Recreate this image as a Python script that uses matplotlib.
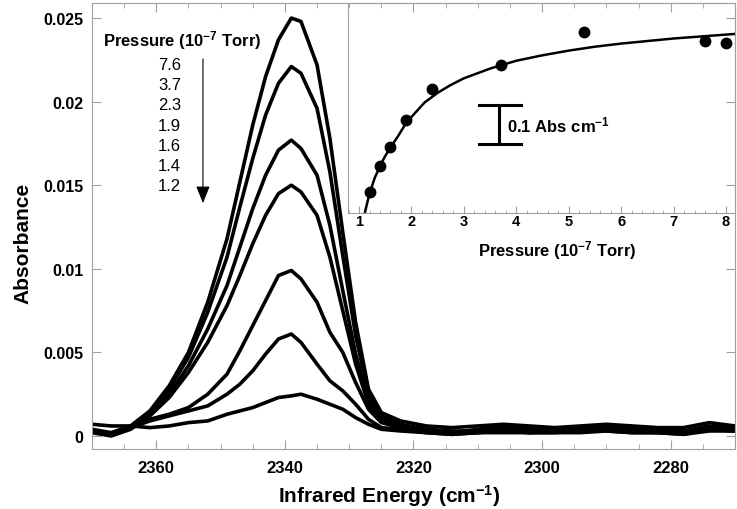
import matplotlib
matplotlib.use("Agg")
import matplotlib.pyplot as plt
from matplotlib.ticker import MultipleLocator

plt.rcParams["font.family"] = ["Liberation Sans", "DejaVu Sans"]
plt.rcParams["mathtext.fontset"] = "custom"
plt.rcParams["mathtext.rm"] = "Liberation Sans"
plt.rcParams["mathtext.bf"] = "Liberation Sans:bold"
plt.rcParams["mathtext.it"] = "Liberation Sans:italic"

GRAY = "#a0a0a0"

# IR spectra, wavenumber in cm-1
wavenumber = [2370, 2367, 2364, 2361, 2358, 2355, 2352, 2349, 2347, 2345, 2343,
              2341, 2339, 2337.5, 2335, 2333, 2331, 2329, 2327, 2325, 2322,
              2318, 2314, 2310, 2306, 2302, 2298, 2294, 2290, 2286, 2282,
              2278, 2274, 2270]

abs_76 = [.0004, .0002, .0006, .0015, .0030, .0050, .0080, .0118, .0152, .0186, .0215,
          .0237, .0250, .0248, .0222, .0178, .0122, .0068, .0028, .0014, .0009,
          .0006, .0005, .0006, .0007, .0006, .0005, .0006, .0007, .0006, .0005,
          .0005, .0008, .0006]
abs_37 = [.0003, .0001, .0005, .0014, .0028, .0047, .0074, .0107, .0137, .0166, .0192,
          .0211, .0221, .0217, .0196, .0158, .0108, .0060, .0025, .0012, .0007,
          .0004, .0002, .0004, .0006, .0004, .0004, .0005, .0006, .0005, .0004,
          .0003, .0006, .0005]
abs_23 = [.0003, .0001, .0005, .0013, .0025, .0042, .0064, .0090, .0113, .0136, .0156,
          .0171, .0177, .0172, .0156, .0126, .0087, .0049, .0021, .0011, .0006,
          .0004, .0003, .0003, .0005, .0004, .0003, .0004, .0005, .0004, .0004,
          .0002, .0005, .0004]
abs_19 = [.0002, .0000, .0004, .0012, .0023, .0038, .0056, .0078, .0096, .0115, .0132,
          .0145, .0150, .0146, .0132, .0107, .0075, .0043, .0019, .0010, .0006,
          .0003, .0001, .0003, .0004, .0003, .0003, .0004, .0004, .0003, .0003,
          .0002, .0005, .0004]
abs_16 = [.0003, .0001, .0005, .0010, .0013, .0017, .0025, .0037, .0051, .0066, .0081,
          .0096, .0099, .0094, .0080, .0062, .0050, .0032, .0016, .0008, .0005,
          .0003, .0002, .0002, .0004, .0002, .0003, .0003, .0004, .0003, .0002,
          .0001, .0004, .0003]
abs_14 = [.0003, .0001, .0005, .0009, .0012, .0015, .0018, .0025, .0031, .0039, .0049,
          .0058, .0061, .0056, .0043, .0033, .0027, .0019, .0010, .0005, .0004,
          .0002, .0001, .0002, .0003, .0002, .0002, .0003, .0003, .0002, .0002,
          .0001, .0003, .0003]
abs_12 = [.0007, .0006, .0006, .0005, .0006, .0008, .0009, .0013, .0015, .0017, .0020,
          .0023, .0024, .0025, .0022, .0019, .0016, .0011, .0007, .0004, .0003,
          .0002, .0001, .0002, .0002, .0002, .0002, .0002, .0003, .0002, .0002,
          .0002, .0004, .0003]
spectra = [abs_76, abs_37, abs_23, abs_19, abs_16, abs_14, abs_12]
pressure_labels = ["7.6", "3.7", "2.3", "1.9", "1.6", "1.4", "1.2"]

# inset: integrated absorbance vs pressure
pressure = [1.2, 1.4, 1.6, 1.9, 2.4, 3.7, 5.3, 7.6, 8.0]
intensity = [0.054, 0.120, 0.169, 0.238, 0.318, 0.379, 0.464, 0.441, 0.436]
fit_p = [1.11, 1.2, 1.3, 1.4, 1.5, 1.6, 1.75, 1.9, 2.0, 2.25, 2.5, 2.75, 3.0,
         3.5, 4.0, 4.5, 5.0, 5.5, 6.0, 7.0, 8.2]
fit_a = [0.0, 0.050, 0.090, 0.120, 0.146, 0.168, 0.198, 0.231, 0.246, 0.283,
         0.308, 0.328, 0.345, 0.370, 0.390, 0.404, 0.416, 0.426, 0.434, 0.447,
         0.459]

fig = plt.figure(figsize=(7.37, 5.10), dpi=100)
ax = fig.add_axes([0.1248, 0.1176, 0.8725, 0.8745])
for a in spectra:
    ax.plot(wavenumber, a, color="k", lw=2.6)

ax.set_xlim(2370, 2270)
ax.set_ylim(-0.00078, 0.0259)
ax.xaxis.set_major_locator(MultipleLocator(20))
ax.xaxis.set_minor_locator(MultipleLocator(5))
ax.set_yticks([0, 0.005, 0.01, 0.015, 0.02, 0.025],
              ["0", "0.005", "0.01", "0.015", "0.02", "0.025"])
ax.tick_params(which="both", direction="in", top=True, right=True, color=GRAY)
ax.tick_params(which="major", length=6.5)
ax.tick_params(which="minor", length=3.6)
ax.tick_params(axis="x", labelsize=12, pad=8)
ax.tick_params(axis="y", labelsize=11.5, pad=6)
for lab in ax.get_xticklabels() + ax.get_yticklabels():
    lab.set_fontweight("bold")
for s in ax.spines.values():
    s.set_color(GRAY)

ax.set_xlabel(r"Infrared Energy (cm$^{\mathbf{-1}}$)", fontsize=15, fontweight="bold")
ax.xaxis.label.set_va("center")
ax.xaxis.set_label_coords(0.462, -0.103)
ax.set_ylabel("Absorbance", fontsize=15, fontweight="bold")
ax.yaxis.label.set_va("center")
ax.yaxis.set_label_coords(-0.107, 0.464)

ax.text(0.14, 0.917, r"Pressure (10$^{\mathbf{-7}}$ Torr)", transform=ax.transAxes,
        ha="center", va="center", fontsize=12, fontweight="bold")
for i, lab in enumerate(pressure_labels):
    ax.text(0.1384, 0.863 - i * 0.0455, lab, transform=ax.transAxes,
            ha="right", va="center", fontsize=12)
ax.annotate("", xy=(0.1726, 0.545), xytext=(0.1726, 0.881), xycoords="axes fraction",
            arrowprops=dict(arrowstyle="-|>,head_width=0.3,head_length=0.75",
                            color="k", lw=0.8, mutation_scale=14))

# inset
ax2 = fig.add_axes([0.4722, 0.5804, 0.525, 0.4118])
ax2.set_facecolor("none")
ax2.plot(fit_p, fit_a, color="k", lw=1.8)
ax2.plot(pressure, intensity, "o", color="k", ms=7.5)
ax2.set_xlim(0.79, 8.17)
ax2.set_ylim(0, 0.538)
ax2.xaxis.set_major_locator(MultipleLocator(1))
ax2.xaxis.set_minor_locator(MultipleLocator(0.2))
ax2.set_yticks([])
ax2.tick_params(which="both", direction="in", color=GRAY, labelsize=10.5, pad=1)
ax2.tick_params(which="major", length=5)
ax2.tick_params(which="minor", length=2.5)
for lab in ax2.get_xticklabels():
    lab.set_fontweight("bold")
for s in ax2.spines.values():
    s.set_color(GRAY)
ax2.set_xlabel(r"Pressure (10$^{\mathbf{-7}}$ Torr)", fontsize=12, fontweight="bold")
ax2.xaxis.label.set_va("center")
ax2.xaxis.set_label_coords(0.541, -0.176)

# scale bar
ax2.plot([3.67, 3.67], [0.177, 0.277], color="k", lw=2.2)
ax2.plot([3.29, 4.09], [0.277, 0.277], color="k", lw=2.2)
ax2.plot([3.29, 4.09], [0.177, 0.177], color="k", lw=2.2)
ax2.text(3.82, 0.227, r"0.1 Abs cm$^{\mathbf{-1}}$", ha="left", va="center",
         fontsize=12, fontweight="bold")

fig.savefig("out.png", dpi=100)
